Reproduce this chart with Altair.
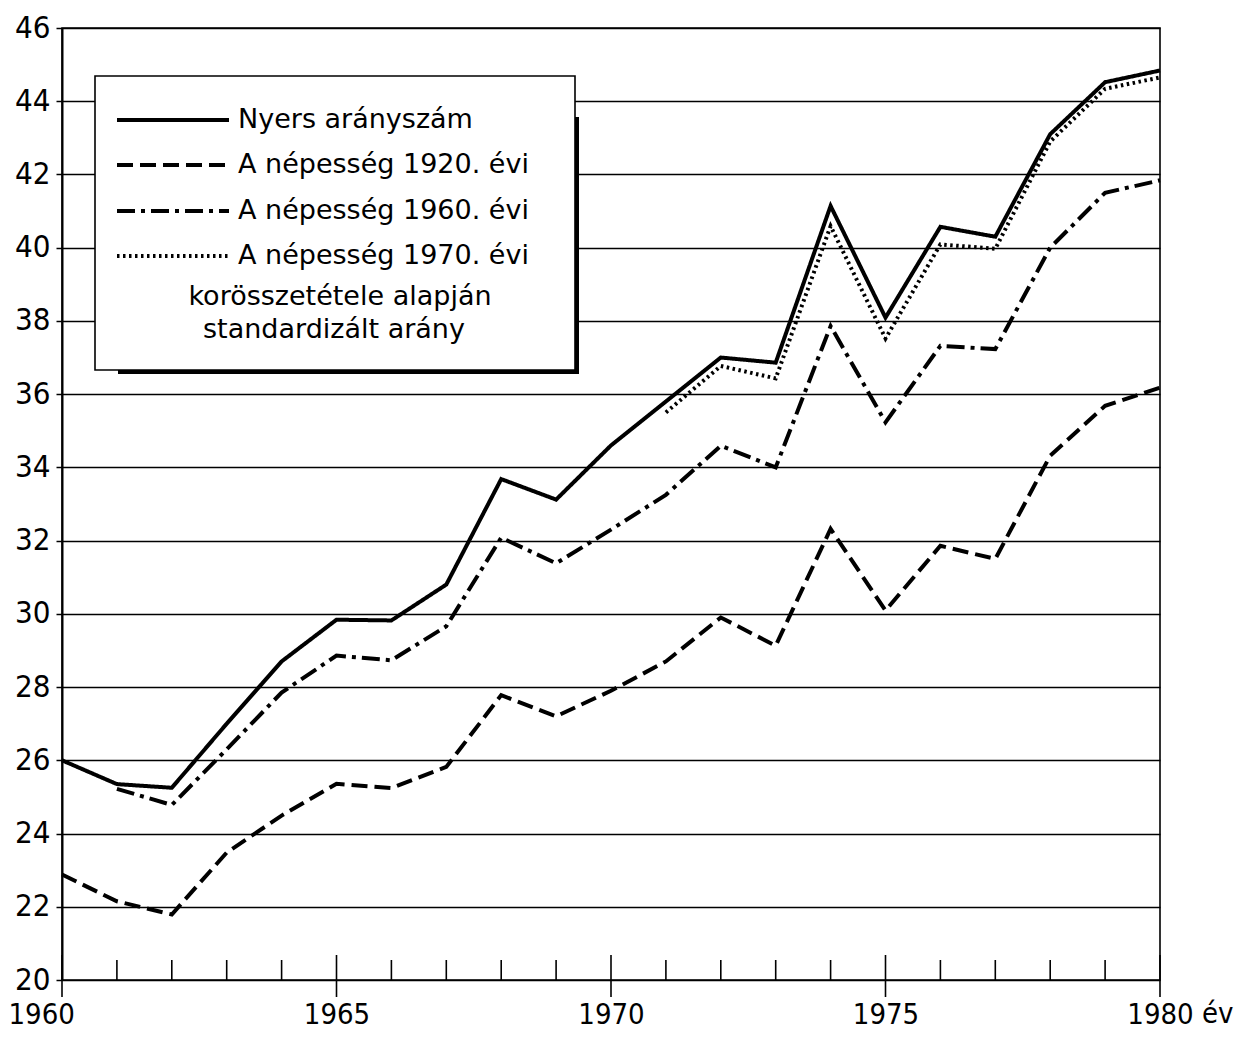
import altair as alt
import pandas as pd

# ---------------- data ----------------
years = list(range(1960, 1981))
crude = [26.0, 25.35, 25.25, 27.0, 28.7, 29.84, 29.82, 30.8, 33.68, 33.12, 34.6,
         35.8, 37.0, 36.86, 41.14, 38.09, 40.57, 40.3, 43.1, 44.52, 44.84]
std_1920 = [22.88, 22.15, 21.79, 23.48, 24.49, 25.36, 25.24, 25.82, 27.78, 27.2, 27.9,
            28.7, 29.9, 29.13, 32.32, 30.09, 31.86, 31.5, 34.32, 35.68, 36.18]
years_1960 = list(range(1961, 1981))
std_1960 = [25.22, 24.78, 26.3, 27.85, 28.86, 28.73, 29.66, 32.08, 31.38, 32.3,
            33.25, 34.59, 34.0, 37.86, 35.23, 37.32, 37.23, 40.0, 41.5, 41.84]
years_1970 = list(range(1971, 1981))
std_1970 = [35.5, 36.77, 36.43, 40.59, 37.52, 40.09, 39.97, 42.9, 44.34, 44.65]

y_ticks = list(range(20, 47, 2))
x_labels = [1960, 1965, 1970, 1975, 1980]
x_unit = "év"
legend_labels = ["Nyers arányszám", "A népesség 1920. évi",
                 "A népesség 1960. évi", "A népesség 1970. évi"]
legend_note = ["korösszetétele alapján", "standardizált arány"]

# ---------------- styling ----------------
FONT = "DejaVu Sans Condensed"
LEG_FONT = "DejaVu Sans"
W, H = 1098, 952
Y0, Y1 = 20, 46
X0, X1 = 1960, 1980
px_y = (Y1 - Y0) / H      # data units per pixel (y)
px_x = (X1 - X0) / W      # data units per pixel (x)

DASH = {"solid": [1, 0], "dash": [16, 7], "dashdot": [18, 6, 4, 6], "dot": [2.5, 3.5]}

xs = alt.Scale(domain=[X0, X1], nice=False, zero=False)
ys = alt.Scale(domain=[Y0, Y1], nice=False, zero=False)

XAX = alt.Axis(values=x_labels, format="d", grid=False, ticks=False, domain=False,
               labelFont=FONT, labelFontSize=29, labelColor="black", labelPadding=20,
               labelAlign={"condition": {"test": "datum.value == 1960", "value": "left"},
                           "value": "center"},
               labelOffset={"condition": {"test": "datum.value == 1960", "value": -54},
                            "value": 0},
               labelBound=False, labelFlush=False, labelOverlap=False,
               title=None)
YAX = alt.Axis(values=y_ticks, format="d", grid=True, gridColor="black", gridWidth=1.4,
               gridOpacity=1, domainColor="black", domainWidth=2, tickColor="black",
               tickSize=6, tickWidth=1.5, labelFont=FONT, labelFontSize=31,
               labelColor="black", labelPadding=6, title=None)


def X(f):
    return alt.X(f, scale=xs, axis=XAX)


def Y(f):
    return alt.Y(f, scale=ys, axis=YAX)


def series_layer(xv, yv, dash):
    df = pd.DataFrame({"ev": xv, "v": yv})
    return alt.Chart(df).mark_line(color="black", strokeWidth=4, strokeDash=dash,
                                   strokeJoin="miter").encode(x=X("ev:Q"), y=Y("v:Q"))


l_1920 = series_layer(years, std_1920, DASH["dash"])
l_1960 = series_layer(years_1960, std_1960, DASH["dashdot"])
l_1970 = series_layer(years_1970, std_1970, DASH["dot"])
l_crude = series_layer(years, crude, DASH["solid"])

# x-axis tick marks: minor ones inside the plot, major ones across the axis
minor = [y for y in years if y not in x_labels]
tick_minor = alt.Chart(pd.DataFrame({"ev": minor})).mark_rule(color="black", strokeWidth=1.6).encode(
    x=X("ev:Q"), y=Y("a:Q"), y2="b:Q"
).transform_calculate(a=str(Y0), b=str(Y0 + 20 * px_y))
tick_major = alt.Chart(pd.DataFrame({"ev": x_labels})).mark_rule(color="black", strokeWidth=1.6).encode(
    x=X("ev:Q"), y=Y("a:Q"), y2="b:Q"
).transform_calculate(a=str(Y0 - 17 * px_y), b=str(Y0 + 25 * px_y))

unit_text = alt.Chart(pd.DataFrame({"ev": [X1], "v": [Y0], "t": [x_unit]})).mark_text(
    font=FONT, fontSize=29, align="left", baseline="top", dx=42, dy=20, color="black"
).encode(x=X("ev:Q"), y=Y("v:Q"), text="t:N")

# ---------------- legend box ----------------
def xp(p):
    return X0 + (p - 62) * px_x


def yp(p):
    return Y0 + (980 - p) * px_y


box = alt.Chart(pd.DataFrame({"a": [xp(95)], "b": [xp(575)], "c": [yp(370)], "d": [yp(76)]})).mark_rect(
    fill="white", stroke="black", strokeWidth=1.6
).encode(x=X("a:Q"), x2="b:Q", y=Y("c:Q"), y2="d:Q")

shadow_b = alt.Chart(pd.DataFrame({"a": [xp(118)], "b": [xp(578)], "c": [yp(372)]})).mark_rule(
    color="black", strokeWidth=4).encode(x=X("a:Q"), x2="b:Q", y=Y("c:Q"))
shadow_r = alt.Chart(pd.DataFrame({"a": [xp(577)], "c": [yp(117)], "d": [yp(374)]})).mark_rule(
    color="black", strokeWidth=4).encode(x=X("a:Q"), y=Y("c:Q"), y2="d:Q")

row_y = [yp(120), yp(165), yp(211), yp(256)]
row_dash = [DASH["solid"], DASH["dash"], DASH["dashdot"], DASH["dot"]]
legend_layers = []
for i in range(4):
    d = pd.DataFrame({"a": [xp(117)], "b": [xp(229)], "c": [row_y[i]], "t": [legend_labels[i]]})
    legend_layers.append(alt.Chart(d).mark_rule(color="black", strokeWidth=4, strokeDash=row_dash[i]).encode(
        x=X("a:Q"), x2="b:Q", y=Y("c:Q")))
    legend_layers.append(alt.Chart(d).mark_text(font=LEG_FONT, fontSize=27, align="left",
                                                baseline="middle", dx=9, color="black").encode(
        x=X("b:Q"), y=Y("c:Q"), text="t:N"))

note = alt.Chart(pd.DataFrame({"a": [xp(340), xp(334)], "c": [yp(297), yp(330)], "t": legend_note})).mark_text(
    font=LEG_FONT, fontSize=27, align="center", baseline="middle", color="black"
).encode(x=X("a:Q"), y=Y("c:Q"), text="t:N")

chart = alt.layer(
    l_1920, l_1960, l_1970, l_crude, tick_minor, tick_major, unit_text,
    box, shadow_b, shadow_r, *legend_layers, note
).properties(
    width=W, height=H,
    autosize=alt.AutoSizeParams(type="none"),
    padding={"left": 54, "top": 20, "right": 90, "bottom": 52},
    background="white",
).configure_view(stroke="black", strokeWidth=1.6)

chart.save("out.html", embed_options={"renderer": "svg", "actions": False})
